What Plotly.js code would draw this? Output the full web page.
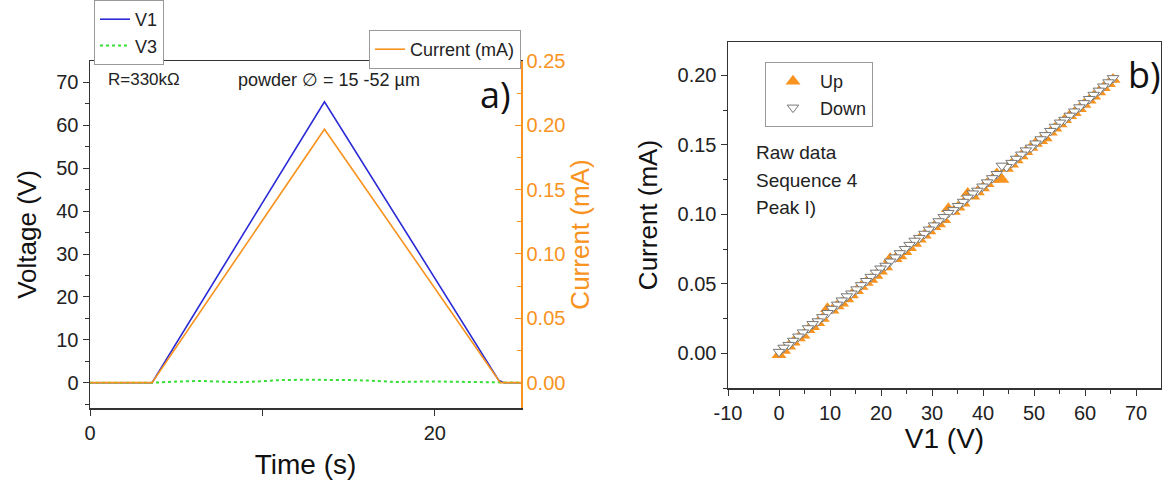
<!DOCTYPE html>
<html><head><meta charset="utf-8">
<script src="https://cdn.plot.ly/plotly-3.0.1.min.js"></script>
<style>html,body{margin:0;padding:0;background:#fff}#c{width:1162px;height:482px}</style>
</head><body><div id="c"></div>
<script>
// ---- Panel a) time series ----
const tV1 = [0, 3.6, 13.6, 23.7, 24.0, 25];
const v1 = [0, 0, 65.5, 0.6, 0, 0];
const tV3 = [0, 3.6, 5.0, 6.4, 7.5, 8.7, 10, 11, 12.5, 14, 15.2, 16.3, 17.8, 19.8, 21.3, 22.7, 23.6, 24.0, 25];
const v3 = [0, 0, 0.25, 0.4, 0.25, 0.1, 0.35, 0.6, 0.7, 0.7, 0.6, 0.47, 0.16, 0.3, 0.25, 0.15, 0.05, 0, 0];
const tCur = [0, 3.6, 13.6, 23.8, 25];
const cur = [0, 0, 0.197, 0, 0];

// ---- Panel b) I-V (raw data, sequence 4, peak I) ----
const upV = [0,0.9,1.9,2.8,3.8,4.7,5.7,6.6,7.6,8.5,9.5,10.4,11.4,12.3,13.3,14.2,15.2,16.1,17.1,18.0,19.0,19.9,20.9,21.8,22.8,23.7,24.7,25.6,26.6,27.5,28.5,29.4,30.4,31.3,32.3,33.2,34.2,35.1,36.1,37.0,38.0,38.9,39.9,40.8,41.8,42.7,43.7,44.6,45.6,46.5,47.5,48.4,49.4,50.3,51.3,52.2,53.2,54.1,55.1,56.0,57.0,57.9,58.9,59.8,60.8,61.7,62.7,63.6,64.6,65.5];
const upI = [-0.001,0.002,0.005,0.008,0.011,0.013,0.017,0.019,0.022,0.025,0.032,0.031,0.034,0.036,0.039,0.042,0.045,0.048,0.051,0.053,0.056,0.059,0.062,0.068,0.068,0.070,0.073,0.076,0.079,0.082,0.085,0.088,0.091,0.093,0.096,0.104,0.102,0.105,0.108,0.115,0.113,0.116,0.119,0.122,0.125,0.129,0.125,0.133,0.136,0.139,0.142,0.145,0.148,0.151,0.153,0.155,0.159,0.162,0.165,0.168,0.171,0.173,0.176,0.179,0.182,0.185,0.188,0.191,0.194,0.197];
const downV = [65.5,64.6,63.6,62.7,61.7,60.8,59.8,58.9,57.9,57.0,56.0,55.1,54.1,53.2,52.2,51.3,50.3,49.4,48.4,47.5,46.5,45.6,44.6,43.7,42.7,41.8,40.8,39.9,38.9,38.0,37.0,36.1,35.1,34.2,33.2,32.3,31.3,30.4,29.4,28.5,27.5,26.6,25.6,24.7,23.7,22.8,21.8,20.9,19.9,19.0,18.0,17.1,16.1,15.2,14.2,13.3,12.3,11.4,10.4,9.5,8.5,7.6,6.6,5.7,4.7,3.8,2.8,1.9,0.9,0];
const downI = [0.198,0.195,0.192,0.189,0.186,0.183,0.180,0.177,0.174,0.171,0.168,0.166,0.163,0.160,0.157,0.154,0.151,0.148,0.146,0.143,0.140,0.137,0.134,0.135,0.129,0.126,0.123,0.120,0.117,0.115,0.112,0.109,0.106,0.103,0.101,0.098,0.095,0.092,0.089,0.086,0.083,0.081,0.078,0.075,0.072,0.069,0.066,0.063,0.061,0.058,0.055,0.052,0.049,0.046,0.043,0.041,0.038,0.035,0.032,0.029,0.026,0.023,0.021,0.018,0.015,0.012,0.009,0.006,0.004,0.001];

const xTicksB = [-10, 0, 10, 20, 30, 40, 50, 60, 70];
const xTickTextB = ['-10', '0', '10', '20', '30', '40', '50', '60', '70'];

const ORANGE = '#f7931e';
const FONT = 'Liberation Sans, Arial, sans-serif';
const W = 1162, H = 482;
const px = x => x / W, py = y => (H - y) / H;

const traces = [
  {x: tV1, y: v1, name: 'V1', mode: 'lines', line: {color: '#2a2ad6', width: 1.6}, xaxis: 'x', yaxis: 'y', legend: 'legend'},
  {x: tV3, y: v3, name: 'V3', mode: 'lines', line: {color: '#33e033', width: 2, dash: 'dot'}, xaxis: 'x', yaxis: 'y', legend: 'legend'},
  {x: tCur, y: cur, name: 'Current (mA)', mode: 'lines', line: {color: ORANGE, width: 1.6}, xaxis: 'x', yaxis: 'y2', legend: 'legend2'},
  {x: upV, y: upI, name: 'Up', mode: 'markers', marker: {symbol: 'triangle-up', size: 13, color: ORANGE, line: {width: 0}}, xaxis: 'x2', yaxis: 'y3', legend: 'legend3'},
  {x: downV, y: downI, name: 'Down', mode: 'markers', marker: {symbol: 'triangle-down', size: 10, color: '#ffffff', line: {width: 1, color: '#777'}}, xaxis: 'x2', yaxis: 'y3', legend: 'legend3'}
];

const tickF = {family: FONT, size: 20, color: '#222'};
const titleV = {family: FONT, size: 26, color: '#111'};
const titleH = {family: FONT, size: 28, color: '#111'};

const layout = {
  width: W, height: H,
  margin: {l: 0, r: 0, t: 0, b: 0},
  paper_bgcolor: '#fff', plot_bgcolor: 'rgba(0,0,0,0)',
  font: {family: FONT},
  showlegend: true,
  xaxis: {
    domain: [px(90), px(521)], range: [0, 25], anchor: 'y',
    tickvals: [0, 20], ticks: 'outside', ticklen: 6, tickcolor: '#333',
    minor: {tickvals: [10], ticks: 'outside', ticklen: 6, tickcolor: '#333'},
    showline: true, linecolor: '#333', linewidth: 1.5, mirror: true,
    showgrid: false, zeroline: false, tickfont: tickF,
    title: {text: 'Time (s)', font: titleH, standoff: 12}
  },
  yaxis: {
    domain: [py(408), py(61)], range: [-5.9, 75], anchor: 'x',
    tickvals: [0, 10, 20, 30, 40, 50, 60, 70], ticks: 'outside', ticklen: 6, tickcolor: '#333',
    minor: {tickvals: [-5, 5, 15, 25, 35, 45, 55, 65], ticks: 'outside', ticklen: 4, tickcolor: '#333'},
    showline: true, linecolor: '#333', linewidth: 1.5,
    showgrid: false, zeroline: false, tickfont: tickF,
    title: {text: 'Voltage (V)', font: titleV, standoff: 12}
  },
  yaxis2: {
    overlaying: 'y', side: 'right', anchor: 'x', range: [-0.0197, 0.25],
    tickvals: [0, 0.05, 0.1, 0.15, 0.2, 0.25], tickformat: '.2f',
    ticks: 'inside', ticklen: 6, tickcolor: ORANGE,
    minor: {tickvals: [0.025, 0.075, 0.125, 0.175, 0.225], ticks: 'inside', ticklen: 4, tickcolor: ORANGE},
    showline: true, linecolor: ORANGE, linewidth: 1.5,
    showgrid: false, zeroline: false, tickfont: {family: FONT, size: 20, color: ORANGE},
    title: {text: 'Current (mA)', font: {family: FONT, size: 26, color: ORANGE}, standoff: 4}
  },
  xaxis2: {
    domain: [px(728), px(1161)], range: [-10, 74.9], anchor: 'y3',
    tickvals: xTicksB, ticktext: xTickTextB, ticks: 'outside', ticklen: 6, tickcolor: '#333',
    minor: {tickvals: [-5, 5, 15, 25, 35, 45, 55, 65], ticks: 'outside', ticklen: 4, tickcolor: '#333'},
    showline: true, linecolor: '#333', linewidth: 1.5, mirror: true,
    showgrid: false, zeroline: false, tickfont: tickF,
    title: {text: 'V1 (V)', font: titleH, standoff: 0}
  },
  yaxis3: {
    domain: [py(388), py(42)], range: [-0.025, 0.224], anchor: 'x2',
    tickvals: [0, 0.05, 0.1, 0.15, 0.2], tickformat: '.2f', ticks: 'outside', ticklen: 6, tickcolor: '#333',
    minor: {tickvals: [-0.025, 0.025, 0.075, 0.125, 0.175, 0.225], ticks: 'outside', ticklen: 4, tickcolor: '#333'},
    showline: true, linecolor: '#333', linewidth: 1.5, mirror: true,
    showgrid: false, zeroline: false, tickfont: tickF,
    title: {text: 'Current (mA)', font: titleV, standoff: 12}
  },
  legend: {
    x: px(94), y: py(0), xanchor: 'left', yanchor: 'top',
    bordercolor: '#999', borderwidth: 1, bgcolor: '#fff',
    font: {family: FONT, size: 18, color: '#222'}, tracegroupgap: 0
  },
  legend2: {
    x: px(521), y: py(30), xanchor: 'right', yanchor: 'top',
    bordercolor: '#999', borderwidth: 1, bgcolor: '#fff',
    font: {family: FONT, size: 18, color: '#222'}
  },
  legend3: {
    x: px(765), y: py(62), xanchor: 'left', yanchor: 'top',
    bordercolor: '#999', borderwidth: 1, bgcolor: '#fff', itemwidth: 44,
    font: {family: FONT, size: 18, color: '#222'}
  },
  annotations: [
    {xref: 'paper', yref: 'paper', x: px(106), y: py(80), xanchor: 'left', yanchor: 'middle', showarrow: false, text: 'R=330kΩ', font: {family: FONT, size: 17, color: '#222'}},
    {xref: 'paper', yref: 'paper', x: px(236), y: py(80), xanchor: 'left', yanchor: 'middle', showarrow: false, text: 'powder ∅ = 15 -52 µm', font: {family: FONT, size: 18, color: '#222'}},
    {xref: 'paper', yref: 'paper', x: px(495), y: py(95), xanchor: 'center', yanchor: 'middle', showarrow: false, text: 'a)', font: {family: 'Open Sans, sans-serif', size: 36, color: '#111'}},
    {xref: 'paper', yref: 'paper', x: px(1144), y: py(74), xanchor: 'center', yanchor: 'middle', showarrow: false, text: 'b)', font: {family: 'Open Sans, sans-serif', size: 36, color: '#111'}},
    {xref: 'paper', yref: 'paper', x: px(754), y: py(152), xanchor: 'left', yanchor: 'middle', showarrow: false, text: 'Raw data', font: {family: FONT, size: 19, color: '#222'}},
    {xref: 'paper', yref: 'paper', x: px(754), y: py(180), xanchor: 'left', yanchor: 'middle', showarrow: false, text: 'Sequence 4', font: {family: FONT, size: 19, color: '#222'}},
    {xref: 'paper', yref: 'paper', x: px(754), y: py(207), xanchor: 'left', yanchor: 'middle', showarrow: false, text: 'Peak I)', font: {family: FONT, size: 19, color: '#222'}}
  ]
};

Plotly.newPlot('c', traces, layout, {displayModeBar: false, staticPlot: true});
</script></body></html>
